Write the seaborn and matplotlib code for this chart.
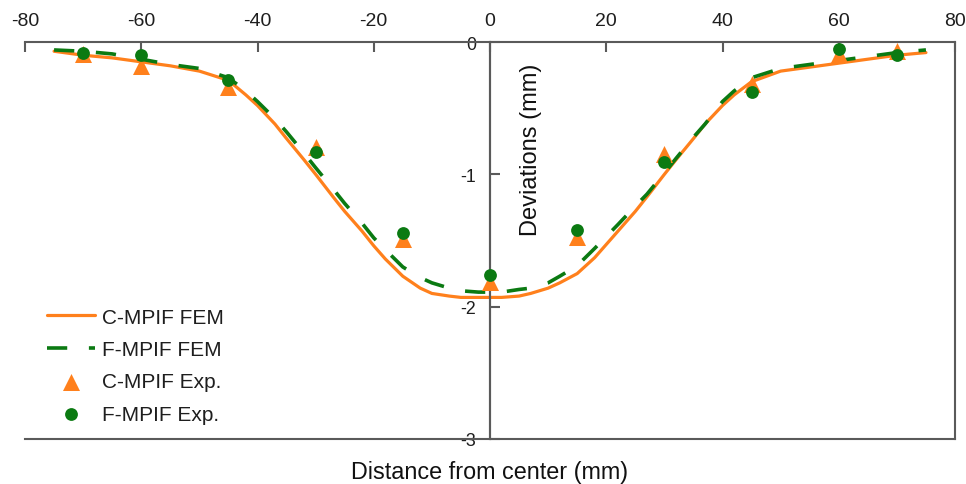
import matplotlib
matplotlib.use("Agg")
import matplotlib.pyplot as plt
from matplotlib.spines import Spine
import numpy as np
import pandas as pd
import seaborn as sns

# FEM profiles (deviation in mm along the section)
x_fem = [-75, -70, -65, -60, -55, -50, -45, -42, -40, -37, -35, -32, -30, -27, -25,
         -22, -20, -18, -15, -12, -10, -7, -5, -2, 0, 2, 5, 7, 10, 12, 15, 18, 20,
         22, 25, 27, 30, 32, 35, 37, 40, 42, 45, 50, 55, 60, 65, 70, 75]
c_mpif_fem = [-0.07, -0.10, -0.12, -0.15, -0.18, -0.22, -0.29, -0.40, -0.48, -0.62,
              -0.73, -0.89, -1.00, -1.17, -1.28, -1.43, -1.54, -1.64, -1.77, -1.86,
              -1.90, -1.92, -1.93, -1.93, -1.93, -1.93, -1.92, -1.90, -1.86, -1.82,
              -1.75, -1.63, -1.53, -1.43, -1.28, -1.17, -1.00, -0.89, -0.73, -0.62,
              -0.48, -0.40, -0.30, -0.22, -0.19, -0.16, -0.13, -0.10, -0.08]
f_mpif_fem = [-0.06, -0.07, -0.09, -0.13, -0.17, -0.20, -0.27, -0.37, -0.45, -0.58,
              -0.68, -0.84, -0.95, -1.11, -1.22, -1.37, -1.48, -1.57, -1.70, -1.78,
              -1.82, -1.86, -1.88, -1.89, -1.89, -1.89, -1.87, -1.86, -1.82, -1.77,
              -1.69, -1.56, -1.47, -1.38, -1.24, -1.15, -0.99, -0.88, -0.72, -0.62,
              -0.45, -0.37, -0.27, -0.20, -0.17, -0.14, -0.11, -0.08, -0.06]

# Measured profiles
x_exp = [-70, -60, -45, -30, -15, 0, 15, 30, 45, 60, 70]
c_mpif_exp = [-0.09, -0.18, -0.34, -0.79, -1.49, -1.81, -1.47, -0.85, -0.32, -0.09, -0.07]
f_mpif_exp = [-0.08, -0.10, -0.29, -0.83, -1.44, -1.76, -1.42, -0.91, -0.38, -0.05, -0.10]

x_ticks = [-80, -60, -40, -20, 0, 20, 40, 60, 80]
y_ticks = [0, -1, -2, -3]

ORANGE = "#FF801C"
GREEN = "#0B7A12"
FRAME = "#5A5A5A"
TEXT = "#1E1E1E"

sns.set_style("white")
plt.rcParams["font.family"] = ["Liberation Sans", "DejaVu Sans"]
plt.rcParams["axes.unicode_minus"] = False

fem = pd.DataFrame({"x": x_fem, "C": c_mpif_fem, "F": f_mpif_fem})
exp = pd.DataFrame({"x": x_exp, "C": c_mpif_exp, "F": f_mpif_exp})

fig = plt.figure(figsize=(9.66, 4.85), dpi=100)
ax = fig.add_axes([25 / 966, 1 - 440 / 485, 930 / 966, 397 / 485])

sns.lineplot(data=fem, x="x", y="C", ax=ax, color=ORANGE, lw=2.3,
             label="C-MPIF FEM", sort=False)
sns.lineplot(data=fem, x="x", y="F", ax=ax, color=GREEN, lw=2.6,
             linestyle=(0, (5.6, 6.0)), label="F-MPIF FEM", sort=False)
sns.scatterplot(data=exp, x="x", y="C", ax=ax, color=ORANGE, marker="^",
                s=150, linewidth=0, label="C-MPIF Exp.", zorder=4)
sns.scatterplot(data=exp, x="x", y="F", ax=ax, color=GREEN, marker="o",
                s=85, linewidth=0, label="F-MPIF Exp.", zorder=5)

ax.set_xlim(-80, 80)
ax.set_ylim(-3, 0)

# Frame box plus a vertical axis through x = 0
ax.spines["left"].set_position(("data", 0))
frame_left = Spine.linear_spine(ax, "left")
ax.spines["frame_left"] = frame_left
for name, sp in ax.spines.items():
    sp.set_visible(True)
    sp.set_color(FRAME)
    sp.set_linewidth(1.5)

ax.set_xticks(x_ticks)
ax.set_xticklabels([str(v) for v in x_ticks])
ax.set_yticks(y_ticks)
ax.set_yticklabels([str(v) for v in y_ticks])
ax.xaxis.tick_top()
ax.tick_params(axis="x", direction="in", length=7, width=1.5, color=FRAME,
               labelsize=14, pad=9, labelcolor=TEXT)
ax.tick_params(axis="y", direction="in", length=7, width=1.5, color=FRAME,
               labelsize=12.8, pad=10, labelcolor=TEXT)
ax.yaxis.set_ticks_position("left")

ax.set_xlabel("Distance from center (mm)", fontsize=16.8, color="#111111")
ax.xaxis.set_label_position("bottom")
ax.xaxis.set_label_coords(0.5, -0.053)
ax.xaxis.label.set_verticalalignment("top")

ax.set_ylabel("Deviations (mm)", fontsize=17, color="#111111")
ax.yaxis.set_label_coords(0.556, 0.73)

leg = ax.legend(loc="lower left", bbox_to_anchor=(0.015, 0.018), frameon=False,
                fontsize=15, handlelength=2.3, handletextpad=0.34,
                labelspacing=0.64, borderaxespad=0)
for t in leg.get_texts():
    t.set_color(TEXT)

fig.savefig("out.png", dpi=100)
